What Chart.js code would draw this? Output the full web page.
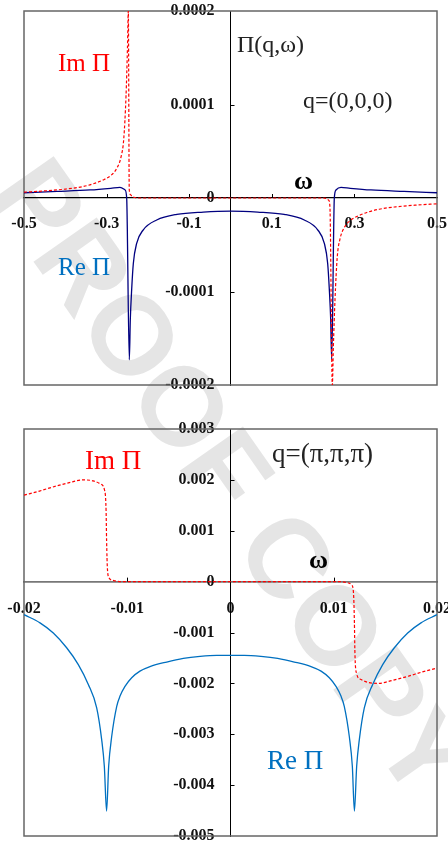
<!DOCTYPE html>
<html>
<head>
<meta charset="utf-8">
<script src="https://cdn.jsdelivr.net/npm/chart.js@4.4.1/dist/chart.umd.min.js"></script>
<style>
    body { margin: 0; background: #fff; }
    #page { position: relative; width: 448px; height: 844px; overflow: hidden; background: #fff; }
    #wm {
        position: absolute; left: 232px; top: 478px;
        transform: translate(-50%, -50%) rotate(55deg);
        font: bold 112px "Liberation Sans", Arial, sans-serif;
        color: #e5e5e5; white-space: nowrap; z-index: 0;
    }
    canvas { position: absolute; left: 0; z-index: 1; }
    #topChart { top: 0; }
    #botChart { top: 410px; }
    .lbl {
        position: absolute; z-index: 2; white-space: nowrap; line-height: 1;
        font-family: "Liberation Serif", "Times New Roman", serif; color: #222;
    }
    .red { color: #ff0000; }
    .blue { color: #0070c0; }
    .w { font-weight: bold; color: #000; }
</style>
</head>
<body>
<div id="page">
    <div id="wm">PROOF COPY</div>
    <canvas id="topChart" width="470" height="400"></canvas>
    <canvas id="botChart" width="470" height="450"></canvas>

    <div class="lbl red" style="left:58px; top:50px; font-size:25px;">Im Π</div>
    <div class="lbl" style="left:237px; top:32px; font-size:24px;">Π(q,ω)</div>
    <div class="lbl" style="left:303px; top:88px; font-size:24px;">q=(0,0,0)</div>
    <div class="lbl w" style="left:294px; top:168px; font-size:26px;">ω</div>
    <div class="lbl blue" style="left:58px; top:254px; font-size:25px;">Re Π</div>

    <div class="lbl red" style="left:85px; top:447px; font-size:27px;">Im Π</div>
    <div class="lbl" style="left:272px; top:440px; font-size:27px;">q=(π,π,π)</div>
    <div class="lbl w" style="left:309px; top:547px; font-size:26px;">ω</div>
    <div class="lbl blue" style="left:267px; top:747px; font-size:27px;">Re Π</div>
</div>
<script>
// ---- top panel: q=(0,0,0) ----
const topXTicks = [-0.5, -0.3, -0.1, 0.1, 0.3, 0.5];
const topXLabels = ['-0.5', '-0.3', '-0.1', '0.1', '0.3', '0.5'];
const topYTicks = [0.0002, 0.0001, 0, -0.0001, -0.0002];
const topYLabels = ['0.0002', '0.0001', '0', '-0.0001', '-0.0002'];

const topImW = [-0.5, -0.45, -0.40, -0.36, -0.33, -0.31, -0.29, -0.275, -0.265, -0.2585, -0.253, -0.2495, -0.2474,
    -0.2452, -0.243, -0.238, -0.232, -0.225, 0, 0.225, 0.232, 0.238, 0.2408, 0.2466, 0.249, 0.253, 0.2585,
    0.265, 0.275, 0.29, 0.31, 0.33, 0.36, 0.40, 0.45, 0.5];
const topImV = [6.2e-6, 7.6e-6, 9.5e-6, 1.2e-5, 1.55e-5, 1.9e-5, 2.4e-5, 3.2e-5, 4.4e-5, 6.3e-5, 1.09e-4, 1.6e-4, 2.0e-4,
    1.0e-5, 4e-6, 1.5e-6, 5e-7, 0, 0, 0, -5e-7, -2.5e-6, -1.0e-5, -2.0e-4, -1.6e-4, -1.09e-4, -6.3e-5,
    -4.4e-5, -3.2e-5, -2.4e-5, -1.9e-5, -1.55e-5, -1.2e-5, -9.5e-6, -7.6e-6, -6.2e-6];

const topReW = [-0.5, -0.42, -0.34, -0.29, -0.2676, -0.2554, -0.2514, -0.245, -0.2426, -0.2393, -0.2353, -0.2272,
    -0.2111, -0.1787, -0.13, -0.0658, 0,
    0.0658, 0.13, 0.1787, 0.2111, 0.2272, 0.2353, 0.2393, 0.2426, 0.245,
    0.2514, 0.2554, 0.2676, 0.29, 0.34, 0.42, 0.5];
const topReV = [5.6e-6, 7.0e-6, 8.6e-6, 1.04e-5, 1.14e-5, 8.6e-6, 0, -1.73e-4, -1.3e-4, -9.8e-5, -7.0e-5, -4.85e-5,
    -3.4e-5, -2.35e-5, -1.75e-5, -1.5e-5, -1.4e-5,
    -1.5e-5, -1.75e-5, -2.35e-5, -3.4e-5, -4.85e-5, -7.0e-5, -9.8e-5, -1.3e-4, -1.73e-4,
    0, 8.6e-6, 1.14e-5, 1.04e-5, 8.6e-6, 7.0e-6, 5.6e-6];

// ---- bottom panel: q=(pi,pi,pi) ----
const botXTicks = [-0.02, -0.01, 0, 0.01, 0.02];
const botXLabels = ['-0.02', '-0.01', '0', '0.01', '0.02'];
const botYTicks = [0.003, 0.002, 0.001, 0, -0.001, -0.002, -0.003, -0.004, -0.005];
const botYLabels = ['0.003', '0.002', '0.001', '0', '-0.001', '-0.002', '-0.003', '-0.004', '-0.005'];

const botImW = [-0.02, -0.0185, -0.0172, -0.0157, -0.0143, -0.0133, -0.0126, -0.0122, -0.01205, -0.0120, -0.01192,
    -0.01175, -0.0113, -0.0105, 0, 0.0105, 0.0113, 0.01175, 0.01192, 0.0120, 0.01205, 0.0122, 0.0126,
    0.0133, 0.0143, 0.0157, 0.0172, 0.0185, 0.02];
const botImV = [1.70e-3, 1.78e-3, 1.86e-3, 1.94e-3, 2.0e-3, 1.98e-3, 1.92e-3, 1.8e-3, 1.4e-3, 0.8e-3, 0.25e-3,
    0.07e-3, 0.02e-3, 0, 0, 0, -0.02e-3, -0.07e-3, -0.25e-3, -0.8e-3, -1.4e-3, -1.8e-3, -1.92e-3,
    -1.98e-3, -2.0e-3, -1.94e-3, -1.86e-3, -1.78e-3, -1.70e-3];

const botReW = [-0.02, -0.01845, -0.01716, -0.01587, -0.01474, -0.01377, -0.01296, -0.01248, -0.01222, -0.0120,
    -0.0118, -0.01151, -0.01102, -0.0107, -0.01022, -0.00957, -0.00877, -0.0078, -0.00618, -0.00457,
    -0.00295, -0.00134, 0,
    0.00134, 0.00295, 0.00457, 0.00618, 0.0078, 0.00877, 0.00957, 0.01022, 0.0107, 0.01102, 0.01151,
    0.0118, 0.0120, 0.01222, 0.01248, 0.01296, 0.01377, 0.01474, 0.01587, 0.01716, 0.01845, 0.02];
const botReV = [-0.65e-3, -0.81e-3, -1.01e-3, -1.30e-3, -1.63e-3, -2.02e-3, -2.48e-3, -3.10e-3, -3.63e-3, -4.51e-3,
    -3.63e-3, -3.05e-3, -2.45e-3, -2.25e-3, -2.06e-3, -1.89e-3, -1.76e-3, -1.67e-3, -1.58e-3, -1.51e-3,
    -1.47e-3, -1.45e-3, -1.45e-3,
    -1.45e-3, -1.47e-3, -1.51e-3, -1.58e-3, -1.67e-3, -1.76e-3, -1.89e-3, -2.06e-3, -2.25e-3, -2.45e-3, -3.05e-3,
    -3.63e-3, -4.51e-3, -3.63e-3, -3.10e-3, -2.48e-3, -2.02e-3, -1.63e-3, -1.30e-3, -1.01e-3, -0.81e-3, -0.65e-3];

const tickFont = { family: '"Liberation Serif", "Times New Roman", serif', weight: 'bold', size: 16 };

function pts(ws, vs) {
    return ws.map((w, i) => ({ x: w, y: vs[i] }));
}

// box round the plot and the short inward tick marks on the centre axes
const framePlugin = {
    id: 'frame',
    beforeDatasetsDraw(chart) {
        const { ctx, chartArea: a, scales: { x, y } } = chart;
        ctx.save();
        ctx.strokeStyle = '#666';
        ctx.lineWidth = 1.5;
        ctx.strokeRect(a.left, a.top, a.right - a.left, a.bottom - a.top);
        ctx.strokeStyle = '#000';
        ctx.lineWidth = 1;
        const x0 = x.getPixelForValue(0);
        const y0 = y.getPixelForValue(0);
        x.ticks.forEach(t => {
            if (t.value === 0 || t.value === x.min || t.value === x.max) return;
            const px = Math.round(x.getPixelForValue(t.value)) + 0.5;
            ctx.beginPath(); ctx.moveTo(px, y0); ctx.lineTo(px, y0 - 4); ctx.stroke();
        });
        y.ticks.forEach(t => {
            if (t.value === 0 || t.value === y.min || t.value === y.max) return;
            const py = Math.round(y.getPixelForValue(t.value)) + 0.5;
            ctx.beginPath(); ctx.moveTo(x0, py); ctx.lineTo(x0 + 4, py); ctx.stroke();
        });
        ctx.restore();
    }
};

function makeChart(id, opt) {
    return new Chart(document.getElementById(id), {
        type: 'line',
        data: {
            datasets: [{
                data: pts(opt.imW, opt.imV),
                borderColor: '#ff0000',
                borderWidth: 1.2,
                borderDash: [3, 2],
                pointRadius: 0,
                cubicInterpolationMode: 'monotone'
            }, {
                data: pts(opt.reW, opt.reV),
                borderColor: opt.reColor,
                borderWidth: 1.3,
                pointRadius: 0,
                cubicInterpolationMode: 'monotone'
            }]
        },
        options: {
            responsive: false,
            animation: false,
            events: [],
            layout: { padding: opt.pad },
            plugins: { legend: { display: false }, tooltip: { enabled: false } },
            scales: {
                x: {
                    type: 'linear',
                    min: opt.xTicks[0],
                    max: opt.xTicks[opt.xTicks.length - 1],
                    position: { y: 0 },
                    afterBuildTicks: s => { s.ticks = opt.xTicks.map(v => ({ value: v })); },
                    ticks: {
                        autoSkip: false, maxRotation: 0, padding: 0,
                        font: tickFont, color: '#111',
                        callback: (v, i) => opt.xLabels[i]
                    },
                    // invisible tick marks only push the labels down below the axis
                    grid: { drawOnChartArea: false, drawTicks: true, tickLength: opt.xGap, tickColor: 'rgba(0,0,0,0)' },
                    border: { color: opt.xAxisColor, width: opt.xAxisWidth }
                },
                y: {
                    type: 'linear',
                    min: opt.yTicks[opt.yTicks.length - 1],
                    max: opt.yTicks[0],
                    position: { x: 0 },
                    afterBuildTicks: s => { s.ticks = opt.yTicks.map(v => ({ value: v })); },
                    ticks: {
                        autoSkip: false, padding: 0,
                        font: tickFont, color: '#111',
                        callback: (v, i) => opt.yLabels[i] + '    '
                    },
                    grid: { drawOnChartArea: false, drawTicks: false },
                    border: { color: '#000', width: 1 }
                }
            }
        },
        plugins: [framePlugin]
    });
}

makeChart('topChart', {
    imW: topImW, imV: topImV, reW: topReW, reV: topReV, reColor: '#000080',
    xTicks: topXTicks, xLabels: topXLabels, yTicks: topYTicks, yLabels: topYLabels,
    pad: { left: 24, top: 11, right: 33, bottom: 15 }, xGap: 16,
    xAxisColor: '#000', xAxisWidth: 1.2
});

makeChart('botChart', {
    imW: botImW, imV: botImV, reW: botReW, reV: botReV, reColor: '#0070c0',
    xTicks: botXTicks, xLabels: botXLabels, yTicks: botYTicks, yLabels: botYLabels,
    pad: { left: 24, top: 19, right: 33, bottom: 24 }, xGap: 18,
    xAxisColor: '#777', xAxisWidth: 1.8
});
</script>
</body>
</html>
